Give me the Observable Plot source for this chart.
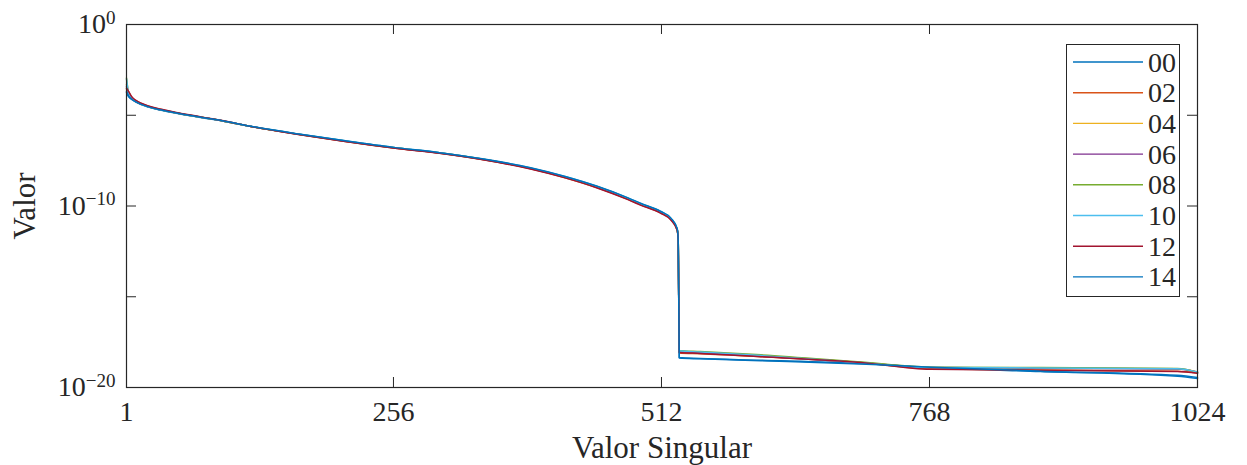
<!DOCTYPE html>
<html><head><meta charset="utf-8">
<script src="https://cdn.jsdelivr.net/npm/d3@7"></script>
<script src="https://cdn.jsdelivr.net/npm/@observablehq/plot@0.6"></script>
<style>
body{margin:0;background:#fff;}
#wrap{position:relative;width:1247px;height:465px;overflow:hidden;}
#legend{position:absolute;left:1066px;top:44px;width:112px;height:251px;border:1.3px solid #262626;background:#fff;}
</style></head><body><div id="wrap"><div id="legend"></div></div>
<script>
// singular value index (x)
const idx = [1, 3, 6, 10, 15, 22, 33, 50, 72, 95, 120, 167, 210, 256, 300, 339, 387, 420, 450, 480, 492, 511, 521, 527, 528, 529, 549, 607, 702, 769, 874, 1005, 1024];

// series values, written as log10 of the singular value
const e00 = [-3.75,-3.97,-4.13,-4.27,-4.41,-4.55,-4.71,-4.90,-5.12,-5.34,-5.62,-6.06,-6.42,-6.78,-7.07,-7.40,-7.92,-8.40,-8.93,-9.58,-9.88,-10.32,-10.70,-11.28,-11.9,-18.35,-18.40,-18.50,-18.68,-18.90,-19.12,-19.38,-19.50];
const e02 = [-3.55,-3.72,-4.00,-4.20,-4.35,-4.50,-4.67,-4.87,-5.10,-5.33,-5.62,-6.07,-6.44,-6.80,-7.09,-7.42,-7.95,-8.44,-8.98,-9.63,-9.93,-10.37,-10.75,-11.32,-11.9,-18.10,-18.14,-18.30,-18.62,-18.97,-19.03,-19.10,-19.20];
const e04 = [-3.30,-3.85,-4.08,-4.24,-4.39,-4.53,-4.69,-4.89,-5.11,-5.34,-5.62,-6.06,-6.43,-6.79,-7.08,-7.41,-7.93,-8.42,-8.95,-9.60,-9.90,-10.34,-10.72,-11.30,-11.9,-18.00,-18.06,-18.25,-18.62,-18.90,-18.93,-18.97,-19.15];
const e06 = [-3.40,-3.88,-4.09,-4.25,-4.39,-4.53,-4.69,-4.89,-5.11,-5.34,-5.62,-6.06,-6.43,-6.79,-7.08,-7.41,-7.93,-8.41,-8.94,-9.60,-9.90,-10.34,-10.72,-11.29,-11.9,-18.00,-18.07,-18.27,-18.62,-18.90,-18.94,-18.98,-19.16];
const e08 = [-2.95,-3.75,-4.05,-4.23,-4.38,-4.52,-4.69,-4.89,-5.11,-5.34,-5.62,-6.06,-6.42,-6.78,-7.07,-7.40,-7.92,-8.40,-8.93,-9.58,-9.88,-10.32,-10.70,-11.28,-11.9,-17.96,-18.02,-18.20,-18.60,-18.88,-18.90,-18.95,-19.17];
const e10 = [-3.00,-3.78,-4.06,-4.24,-4.39,-4.53,-4.69,-4.89,-5.11,-5.33,-5.61,-6.05,-6.41,-6.77,-7.06,-7.39,-7.90,-8.38,-8.91,-9.56,-9.86,-10.30,-10.68,-11.26,-11.9,-17.98,-18.04,-18.24,-18.64,-18.90,-18.92,-18.97,-19.15];
const e12 = [-3.50,-3.68,-3.98,-4.18,-4.34,-4.49,-4.66,-4.86,-5.09,-5.32,-5.62,-6.07,-6.45,-6.81,-7.10,-7.43,-7.96,-8.45,-8.99,-9.65,-9.95,-10.39,-10.77,-11.34,-11.9,-18.07,-18.12,-18.30,-18.62,-19.00,-19.05,-19.12,-19.22];
const e14 = [-3.70,-3.95,-4.12,-4.26,-4.40,-4.54,-4.70,-4.89,-5.11,-5.33,-5.61,-6.05,-6.41,-6.77,-7.06,-7.38,-7.89,-8.37,-8.90,-9.55,-9.85,-10.29,-10.67,-11.24,-11.9,-18.38,-18.42,-18.52,-18.70,-18.88,-19.10,-19.33,-19.45];

const names = ["00", "02", "04", "06", "08", "10", "12", "14"];
const colors = ["#0072BD", "#D95319", "#EDB120", "#7E2F8E", "#77AC30", "#4DBEEE", "#A2142F", "#0072BD"];
const seriesLog = [e00, e02, e04, e06, e08, e10, e12, e14];

const xTicks = [1, 256, 512, 768, 1024];
const yTicks = [1e-20, 1e-15, 1e-10, 1e-5, 1];
const yLabelTicks = [1e-20, 1e-10, 1];
const xTitle = "Valor Singular";
const yTitle = "Valor";

const rows = [];
names.forEach((n, k) => seriesLog[k].forEach((e, i) => rows.push({name: n, x: idx[i], y: Math.pow(10, e)})));

const W = 1247, H = 465, mL = 126, mR = 50, mT = 24, mB = 78;
const pw = W - mL - mR, ph = H - mT - mB;
const ink = "#262626";
const font = '"Liberation Serif", "DejaVu Serif", "Noto Serif", serif';

const chart = Plot.plot({
  width: W, height: H,
  marginLeft: mL, marginRight: mR, marginTop: mT, marginBottom: mB,
  style: {fontFamily: font, color: ink, background: "white"},
  x: {domain: [1, 1024]},
  y: {type: "log", domain: [1e-20, 1]},
  color: {domain: names, range: colors},
  marks: [
    Plot.line(rows, {x: "x", y: "y", z: "name", stroke: "name", strokeWidth: 1.5, curve: "monotone-x"}),
    Plot.frame({stroke: ink, strokeWidth: 1.2}),
    Plot.tickX(xTicks, {x: d => d, insetTop: ph - 10, stroke: ink, strokeWidth: 1}),
    Plot.tickX(xTicks, {x: d => d, insetBottom: ph - 10, stroke: ink, strokeWidth: 1}),
    Plot.tickY(yTicks, {y: d => d, insetRight: pw - 10, stroke: ink, strokeWidth: 1}),
    Plot.tickY(yTicks, {y: d => d, insetLeft: pw - 10, stroke: ink, strokeWidth: 1}),
    Plot.axisX(xTicks, {tickSize: 0, tickPadding: 14, fontSize: 28, fontFamily: font, label: null, tickFormat: d => String(d)}),
    Plot.axisY(yLabelTicks, {tickSize: 0, tickPadding: 11, fontSize: 28, fontFamily: font, label: null,
      tickFormat: d => "10^" + Math.round(Math.log10(d))}),
    Plot.text([xTitle], {text: d => d, frameAnchor: "bottom", lineAnchor: "middle", dy: 61, fontSize: 31, fontFamily: font, fill: ink}),
    Plot.text([yTitle], {text: d => d, frameAnchor: "left", textAnchor: "middle", lineAnchor: "middle", dx: -101, rotate: -90, fontSize: 31, fontFamily: font, fill: ink})
  ]
});

// superscript exponents on y tick labels
d3.select(chart).selectAll('g[aria-label="y-axis tick label"] text').each(function() {
  const t = this.textContent;
  const parts = t.split("^");
  const sel = d3.select(this);
  sel.text(null);
  sel.append("tspan").text(parts[0]);
  sel.append("tspan").attr("dy", "-0.5em").attr("font-size", "0.68em").text(parts[1].replace("-", "\u2212"));
});

document.getElementById("wrap").prepend(chart);

// legend
const lg = d3.select("#legend").append("svg").attr("width", 112).attr("height", 251)
  .attr("font-family", font);
names.forEach((n, i) => {
  const y = 17 + i * 30.7;
  lg.append("line").attr("x1", 6).attr("x2", 76).attr("y1", y).attr("y2", y)
    .attr("stroke", colors[i]).attr("stroke-width", 1.4);
  lg.append("text").attr("x", 81).attr("y", y).attr("dy", "0.34em")
    .attr("font-size", 28).attr("font-family", font).attr("fill", ink).text(n);
});
</script></body></html>
